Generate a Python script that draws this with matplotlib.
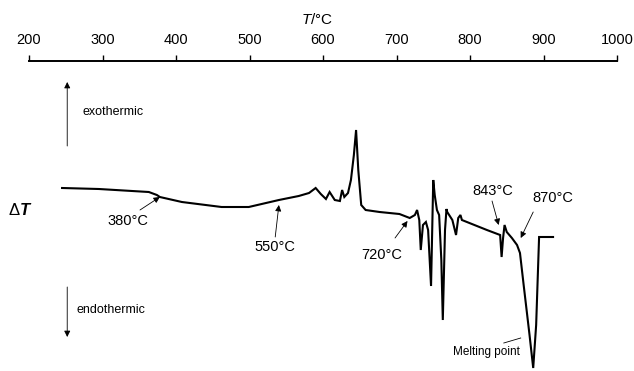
import matplotlib
matplotlib.use("Agg")
import matplotlib.pyplot as plt

plt.rcParams['font.family'] = ['Liberation Sans', 'DejaVu Sans']
plt.rcParams['mathtext.fontset'] = 'custom'
plt.rcParams['mathtext.rm'] = 'Liberation Sans'
plt.rcParams['mathtext.it'] = 'Liberation Sans:italic'
plt.rcParams['mathtext.bf'] = 'Liberation Sans:italic:bold'

# DTA trace: temperature (°C) and delta T (arbitrary units)
temp = [245, 295, 363, 374, 378, 408, 462, 499, 540, 567, 581, 590,
        597, 604, 609, 616, 623, 626, 629, 634, 638, 642, 645, 648,
        652, 658, 677, 704, 718, 725, 728, 731, 733, 736, 740, 743,
        747, 750, 752, 755, 758, 761, 763, 766, 768, 769, 776, 781,
        784, 787, 789, 806, 823, 841, 843, 845, 847, 850, 857, 864,
        868, 873, 881, 886, 890, 894, 899, 913]
dT = [6.2, 6.1, 5.8, 5.5, 5.3, 4.8, 4.3, 4.3, 5.0, 5.4, 5.7, 6.2,
      5.6, 5.1, 5.8, 5.0, 4.9, 6.0, 5.3, 5.7, 7.0, 9.5, 12.0, 8.0,
      4.5, 4.0, 3.8, 3.6, 3.2, 3.5, 4.0, 3.0, 0.0, 2.5, 2.8, 2.0,
      -3.6, 7.0, 5.5, 4.0, 3.5, -1.0, -7.0, 2.0, 4.1, 3.8, 3.0, 1.5,
      3.2, 3.5, 3.0, 2.5, 2.0, 1.5, -0.7, 1.2, 2.5, 1.8, 1.2, 0.5,
      -0.3, -3.5, -8.5, -11.8, -7.5, 1.3, 1.3, 1.3]

ticks = [200, 300, 400, 500, 600, 700, 800, 900, 1000]

# annotations: label, arrow tip, arrow tail, text position
notes = [
    ("380°C", (378, 5.3), (351, 4.0), (335, 2.9)),
    ("550°C", (540, 4.5), (535, 1.3), (535, 0.3)),
    ("720°C", (715, 2.9), (698, 1.2), (680, -0.5)),
    ("843°C", (839, 2.5), (830, 4.9), (831, 5.9)),
    ("870°C", (869, 1.2), (886, 3.8), (912, 5.2)),
]

fig = plt.figure(figsize=(6.34, 3.71), dpi=100)
ax = fig.add_axes([29 / 634, 0.0, (617 - 29) / 634, 1 - 61 / 371])

ax.plot(temp, dT, color='black', lw=1.5, solid_joinstyle='miter')

ax.set_xlim(200, 1000)
ax.set_ylim(-12.1, 18.9)
for s in ['left', 'right', 'bottom']:
    ax.spines[s].set_visible(False)
ax.spines['top'].set_linewidth(1.4)
ax.xaxis.set_ticks_position('top')
ax.set_xticks(ticks)
ax.tick_params(axis='x', direction='out', length=4, width=1, pad=6,
               labelsize=10.5)
ax.set_yticks([])

arrow = dict(arrowstyle='-|>', lw=0.6, color='black', mutation_scale=9,
             shrinkA=0, shrinkB=0)
for label, tip, tail, pos in notes:
    ax.annotate('', xy=tip, xytext=tail, arrowprops=arrow)
    ax.text(pos[0], pos[1], label, ha='center', va='center', fontsize=10.5)

# melting point leader line
ax.plot([846, 869], [-9.3, -8.8], color='black', lw=0.6)
ax.text(822, -10.2, "Melting point", ha='center', va='center', fontsize=8.5)

# exo / endo direction arrows
ax.annotate('', xy=(252, 16.8), xytext=(252, 10.4), arrowprops=arrow)
ax.text(273, 13.8, "exothermic", ha='left', va='center', fontsize=9)
ax.annotate('', xy=(252, -8.7), xytext=(252, -3.7), arrowprops=arrow)
ax.text(265, -6.0, "endothermic", ha='left', va='center', fontsize=9)

fig.text(8 / 634, 1 - 210 / 371, r'Δ$\mathbf{T}$', ha='left', va='center',
         fontsize=12)
fig.text(317 / 634, 1 - 20 / 371, r'$\mathit{T}$/°C', ha='center',
         va='center', fontsize=11)

fig.savefig("out.png", dpi=100)
